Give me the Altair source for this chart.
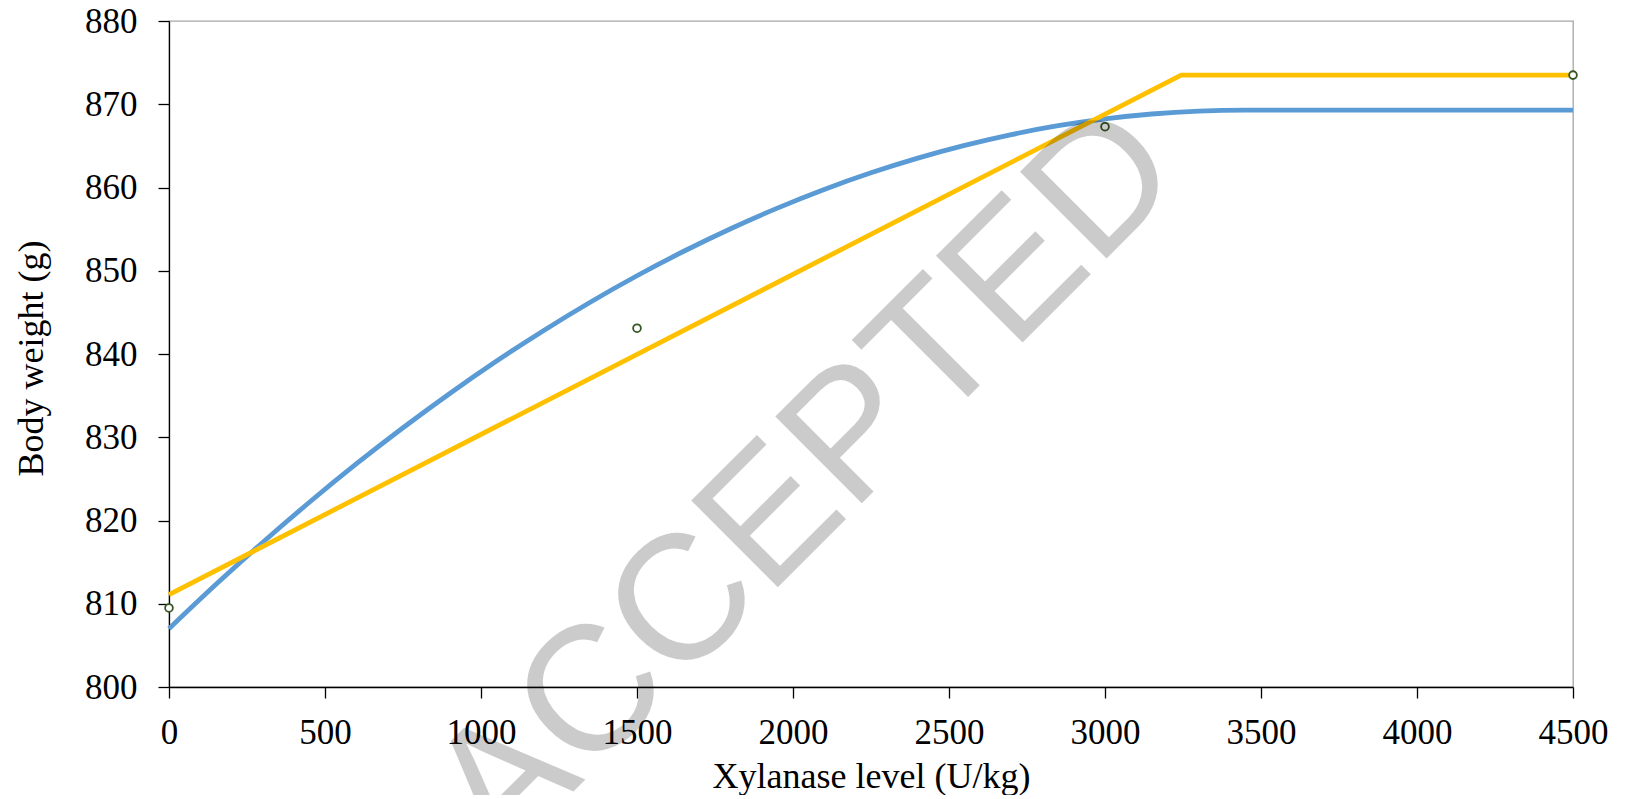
import altair as alt
import pandas as pd

# Axis ticks
x_ticks = [0, 500, 1000, 1500, 2000, 2500, 3000, 3500, 4000, 4500]
y_ticks = [800, 810, 820, 830, 840, 850, 860, 870, 880]

# Quadratic-plateau fit (blue)
blue_x = [0, 150, 300, 450, 600, 750, 900, 1050, 1200, 1350, 1500, 1650, 1800,
          1950, 2100, 2250, 2400, 2550, 2700, 2850, 3000, 3150, 3300, 3450, 4500]
blue_y = [807.0, 812.3, 817.36, 822.19, 826.79, 831.14, 835.26, 839.15, 842.8,
          846.22, 849.4, 852.34, 855.05, 857.52, 859.76, 861.76, 863.53, 865.06,
          866.36, 867.42, 868.24, 868.83, 869.18, 869.3, 869.3]

# Broken-line (linear-plateau) fit (yellow)
yellow_x = [0, 3244, 4500]
yellow_y = [811.1, 873.5, 873.5]

# Observed means
obs_x = [0, 1500, 3000, 4500]
obs_y = [809.5, 843.1, 867.3, 873.5]

watermark = ["ACCEPTED"]

blue_df = pd.DataFrame({"x": blue_x, "y": blue_y})
yellow_df = pd.DataFrame({"x": yellow_x, "y": yellow_y})
obs_df = pd.DataFrame({"x": obs_x, "y": obs_y})
wm_df = pd.DataFrame({"t": watermark})

SERIF = "'Liberation Serif', 'Times New Roman', serif"

xscale = alt.Scale(domain=[0, 4500], nice=False, zero=False)
yscale = alt.Scale(domain=[800, 880], nice=False, zero=False)

xaxis = alt.Axis(
    values=x_ticks, format="d", title="Xylanase level (U/kg)",
    labelFont=SERIF, labelFontSize=35,
    labelBaseline="alphabetic", labelPadding=45,
    titleBaseline="alphabetic", titleY=100,
)
yaxis = alt.Axis(
    values=y_ticks, format="d", title="Body weight (g)",
    labelFont=SERIF, labelFontSize=35,
    labelPadding=21,
    titleAngle=270, titleBaseline="alphabetic", titleAlign="center",
    titleX=-127, titleY=337,
)

blue = alt.Chart(blue_df).mark_line(
    color="#5B9BD5", strokeWidth=4.8, interpolate="monotone"
).encode(
    x=alt.X("x:Q", scale=xscale, axis=xaxis),
    y=alt.Y("y:Q", scale=yscale, axis=yaxis),
)

yellow = alt.Chart(yellow_df).mark_line(
    color="#FFC000", strokeWidth=4.8
).encode(
    x=alt.X("x:Q", scale=xscale, axis=xaxis),
    y=alt.Y("y:Q", scale=yscale, axis=yaxis),
)

points = alt.Chart(obs_df).mark_point(
    shape="circle", size=60, filled=True, fill="white",
    stroke="#375623", strokeWidth=1.8, opacity=1
).encode(
    x=alt.X("x:Q", scale=xscale, axis=xaxis),
    y=alt.Y("y:Q", scale=yscale, axis=yaxis),
)

wm = alt.Chart(wm_df).mark_text(
    font="Liberation Sans", fontSize=178, angle=315, align="center",
    baseline="middle", color="black", opacity=0.2
).encode(
    text="t:N",
    x=alt.value(638),
    y=alt.value(462),
)

chart = alt.layer(blue, yellow, points, wm).properties(
    width=1404, height=666,
    padding={"left": 161, "top": 13, "right": 40, "bottom": 108},
    autosize=alt.AutoSizeParams(type="none"),
    background="white",
).configure_view(
    stroke="#A6A6A6", strokeWidth=1.3
).configure_axis(
    grid=False,
    labelFont=SERIF, labelFontSize=35, labelColor="black",
    labelFlush=False, labelOverlap=False,
    tickSize=11, tickColor="black", tickWidth=1.3,
    domainColor="black", domainWidth=1.3,
    titleFont=SERIF, titleFontSize=36, titleFontWeight="normal", titleColor="black",
)

chart.save("out.html", embed_options={"renderer": "svg", "actions": False})
